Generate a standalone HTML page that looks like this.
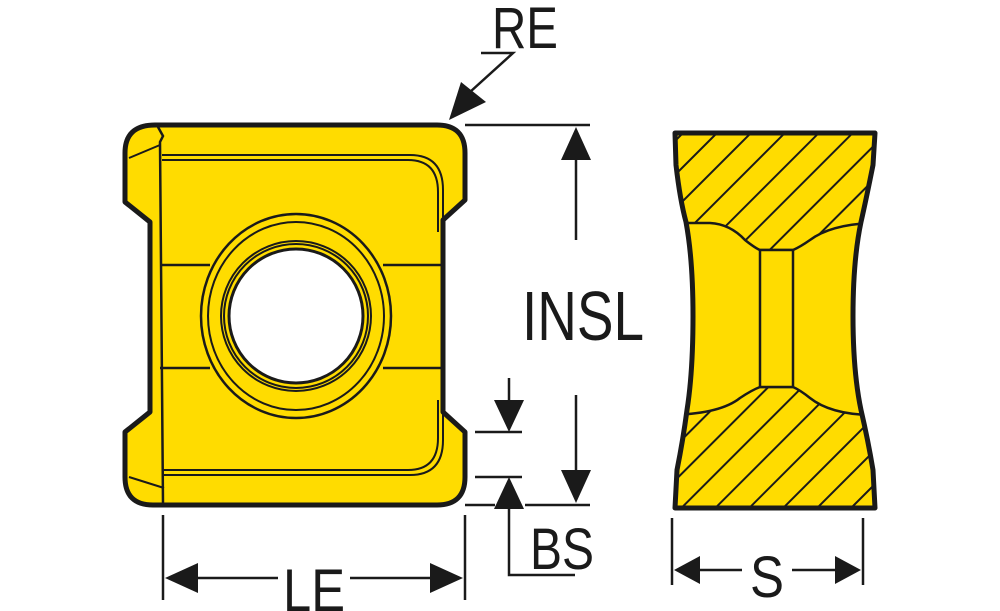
<!DOCTYPE html>
<html><head><style>
html,body{margin:0;padding:0;background:#fff;}
svg{display:block;}
text{font-family:"Liberation Sans",sans-serif;fill:#1a1a1a;}
</style></head><body>
<svg width="1000" height="611" viewBox="0 0 1000 611" xmlns="http://www.w3.org/2000/svg">
<defs>
<pattern id="h" patternUnits="userSpaceOnUse" width="24" height="24" patternTransform="rotate(45)">
<rect width="24" height="24" fill="#FFDC00"/>
<line x1="0" y1="0" x2="0" y2="24" stroke="#1a1a1a" stroke-width="4"/>
</pattern>
<clipPath id="rc"><path d="M675,133 L875,133 L873,165 Q866,200 861,222 Q853,260 853,316 Q853,372 861,410 Q868,440 873,470 L875,508 L675,508 L677,470 Q683,440 687,410 Q693,372 693,316 Q693,260 686,222 Q680,200 676,165 Z"/></clipPath>
</defs>
<path d="M155,125 L437,125 Q465,125 465,153 L465,200 L443,220 L443,412 L465,432 L465,477 Q465,505 437,505 L153,505 Q125,505 125,477 L125,432 L150,412 L150,222 L125,202 L125,153 Q125,125 155,125 Z" fill="#FFDC00" stroke="#1a1a1a" stroke-width="5" stroke-linejoin="round"/>
<path d="M158,127 L163,136 L160,142 L163,504" fill="none" stroke="#1a1a1a" stroke-width="2.5"/>
<path d="M129,158 L160,145 M129,477 L164,488" fill="none" stroke="#1a1a1a" stroke-width="2"/>
<path d="M162,155 L410,155 Q443,155 443,190 L443,232 M162,160 L408,160 Q438,160 438,192 L438,232" fill="none" stroke="#1a1a1a" stroke-width="2"/>
<path d="M162,475 L410,475 Q443,475 443,440 L443,400 M162,470 L408,470 Q438,470 438,438 L438,400" fill="none" stroke="#1a1a1a" stroke-width="2"/>
<path d="M160,265 L210,265 M383,265 L443,265 M160,368 L210,368 M383,368 L443,368" stroke="#1a1a1a" stroke-width="2.5"/>
<ellipse cx="296" cy="316" rx="95" ry="102" fill="#FFDC00" stroke="#1a1a1a" stroke-width="2.5"/>
<ellipse cx="296" cy="316" rx="88" ry="94" fill="none" stroke="#1a1a1a" stroke-width="2"/>
<circle cx="296" cy="316" r="75" fill="#FFDC00" stroke="#1a1a1a" stroke-width="2"/>
<circle cx="296" cy="316" r="72" fill="none" stroke="#1a1a1a" stroke-width="2"/>
<circle cx="296" cy="316" r="67" fill="#fff" stroke="#1a1a1a" stroke-width="3"/>
<g clip-path="url(#rc)">
<rect x="670" y="130" width="210" height="380" fill="url(#h)"/>
<path d="M670,223 L710,223 Q730,224 745,240 Q755,248 760,250 L793,250 Q800,247 810,240 Q830,225 870,223 L870,415 Q830,414 810,398 Q800,390 793,387 L760,387 Q752,390 740,398 Q720,414 670,415 Z" fill="#FFDC00" stroke="#1a1a1a" stroke-width="2.5"/>
<rect x="760" y="250" width="33" height="137" fill="#FFDC00" stroke="#1a1a1a" stroke-width="2.5"/>
</g>
<path d="M675,133 L875,133 L873,165 Q866,200 861,222 Q853,260 853,316 Q853,372 861,410 Q868,440 873,470 L875,508 L675,508 L677,470 Q683,440 687,410 Q693,372 693,316 Q693,260 686,222 Q680,200 676,165 Z" fill="none" stroke="#1a1a1a" stroke-width="5" stroke-linejoin="round"/>
<g stroke="#1a1a1a" stroke-width="2.5" fill="none">
<path d="M481,53 L513,53 L470,92"/>
<path d="M465,125 L590,125"/>
<path d="M475,432 L522,432 M475,477 L522,477 M465,505 L495,505 M525,505 L590,505"/>
<path d="M576,140 L576,240 M576,395 L576,490"/>
<path d="M509,378 L509,420 M509,490 L509,575 L575,575"/>
<path d="M163,515 L163,600 M465,515 L465,600 M672,518 L672,585 M863,518 L863,585"/>
<path d="M190,578 L278,578 M350,578 L440,578 M695,570 L742,570 M792,570 L840,570"/>
</g>
<g fill="#1a1a1a">
<polygon points="449,120 461,82 486,102"/>
<polygon points="576,127 561,160 591,160"/>
<polygon points="576,503 561,470 591,470"/>
<polygon points="509,432 494,400 524,400"/>
<polygon points="509,477 494,509 524,509"/>
<polygon points="165,578 198,563 198,593"/>
<polygon points="463,578 430,563 430,593"/>
<polygon points="674,570 700,556 700,584"/>
<polygon points="861,570 835,556 835,584"/>
</g>
<text x="525" y="48" font-size="58" text-anchor="middle" textLength="66" lengthAdjust="spacingAndGlyphs">RE</text>
<text x="583" y="340" font-size="70" text-anchor="middle" textLength="122" lengthAdjust="spacingAndGlyphs">INSL</text>
<text x="562" y="569" font-size="58" text-anchor="middle" textLength="64" lengthAdjust="spacingAndGlyphs">BS</text>
<text x="314" y="611" font-size="60" text-anchor="middle" textLength="62" lengthAdjust="spacingAndGlyphs">LE</text>
<text x="767" y="597" font-size="58" text-anchor="middle" textLength="34" lengthAdjust="spacingAndGlyphs">S</text>
</svg>
</body></html>
